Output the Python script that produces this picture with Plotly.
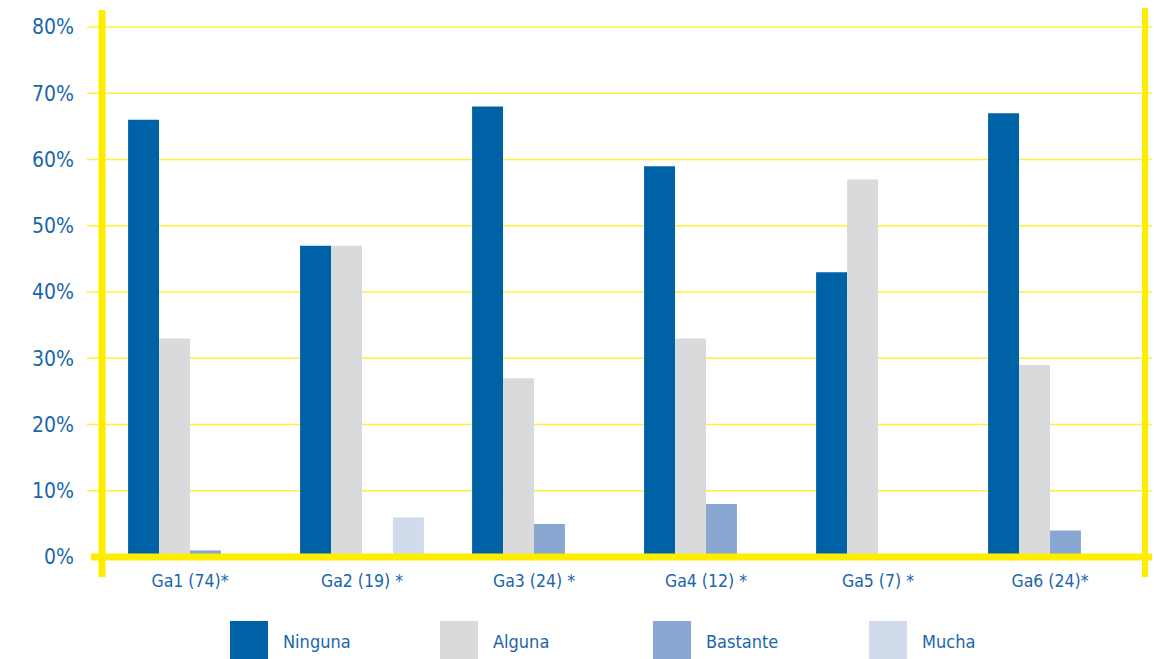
import plotly.graph_objects as go

categories = ["Ga1 (74)*", "Ga2 (19) *", "Ga3 (24) *", "Ga4 (12) *", "Ga5 (7) *", "Ga6 (24)*"]
series_names = ["Ninguna", "Alguna", "Bastante", "Mucha"]
ninguna = [66, 47, 68, 59, 43, 67]
alguna = [33, 47, 27, 33, 57, 29]
bastante = [1, 0, 5, 8, 0, 4]
mucha = [0, 6, 0, 0, 0, 0]
y_ticks = [0, 10, 20, 30, 40, 50, 60, 70, 80]
y_max = 80

colors = ["#0062a6", "#d9dadc", "#88a8d1", "#d1dbec"]
yellow = "#ffed00"
grid_yellow = "#fff03a"
text_blue = "#1a66ab"
font_family = "DejaVu Sans Condensed, Noto Sans, sans-serif"

L, R, T, B = 104, 1136, 27, 557  # plot area in pixels
PW, PH = R - L, B - T


def px(x):
    return (x - L) / PW


def py(y):
    return (B - y) / PH


fig = go.Figure()
for name, vals, col in zip(series_names, [ninguna, alguna, bastante, mucha], colors):
    fig.add_trace(go.Bar(
        x=categories, y=vals, name=name, marker=dict(color=col, line=dict(width=0)),
        showlegend=False,
    ))

shapes = []
# horizontal gridlines, running a little past both frame lines
for v in y_ticks[1:]:
    shapes.append(dict(type="line", xref="paper", yref="paper", x0=px(87), x1=px(1152),
                       y0=v / y_max, y1=v / y_max,
                       line=dict(color=grid_yellow, width=1.5), layer="below"))

# frame: thick yellow left, right and bottom lines
shapes += [
    dict(type="line", xref="paper", yref="paper", x0=px(102), x1=px(102), y0=py(577), y1=py(10),
         line=dict(color=yellow, width=7), layer="above"),
    dict(type="line", xref="paper", yref="paper", x0=px(1145), x1=px(1145), y0=py(577), y1=py(8),
         line=dict(color=yellow, width=6), layer="above"),
    dict(type="line", xref="paper", yref="paper", x0=px(91), x1=px(1152), y0=0, y1=0,
         line=dict(color=yellow, width=7), layer="above"),
]

# legend with large swatches
annotations = []
legend_x = [230, 440, 653, 869]
for name, col, lx in zip(series_names, colors, legend_x):
    shapes.append(dict(type="rect", xref="paper", yref="paper",
                       x0=px(lx), x1=px(lx + 38), y0=py(662), y1=py(621),
                       fillcolor=col, line=dict(width=0)))
    annotations.append(dict(xref="paper", yref="paper", x=px(lx + 51), y=py(641),
                            text=name, showarrow=False, xanchor="left", yanchor="middle",
                            font=dict(family=font_family, size=18, color=text_blue)))

fig.update_layout(
    width=1154, height=659,
    margin=dict(l=L, r=1154 - R, t=T, b=659 - B),
    paper_bgcolor="white", plot_bgcolor="white",
    barmode="group", bargap=0.28, bargroupgap=0,
    shapes=shapes, annotations=annotations,
    xaxis=dict(showline=False, showgrid=False, ticks="",
               tickfont=dict(family=font_family, size=17.5, color=text_blue),
               ticklabelstandoff=11),
    yaxis=dict(range=[0, y_max], tickvals=y_ticks, ticktext=[f"{v}%" for v in y_ticks],
               showgrid=False, zeroline=False, showline=False, ticks="",
               tickfont=dict(family=font_family, size=21, color=text_blue),
               ticklabelstandoff=29),
)

fig.write_html("out.html")
